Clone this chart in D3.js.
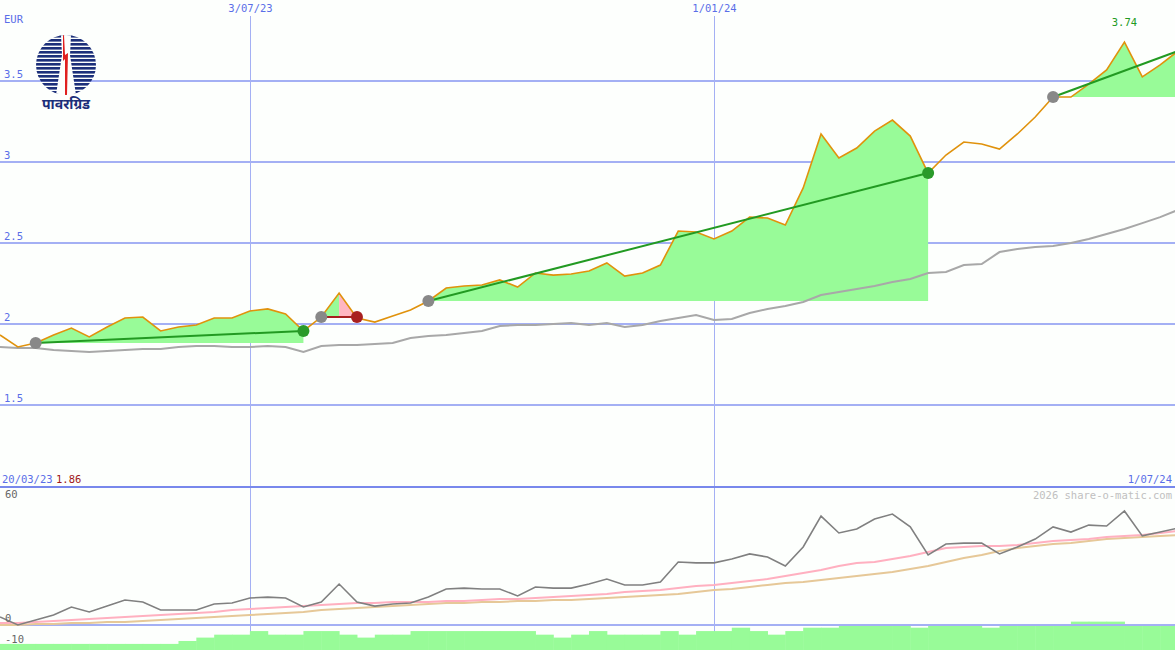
<!DOCTYPE html>
<html><head><meta charset="utf-8">
<script src="https://cdn.jsdelivr.net/npm/d3@7"></script>
<style>body{margin:0;background:#fff}svg{display:block}text{font-family:"DejaVu Sans Mono",monospace;font-size:10.5px}</style>
</head><body><svg id="c" width="1175" height="650"></svg>
<script>
const startDate = "2023-03-27";
const price = [1.932,1.858,1.883,1.932,1.975,1.920,1.981,2.037,2.043,1.957,1.981,1.994,2.037,2.037,2.080,2.093,2.062,1.957,2.043,2.191,2.037,2.012,2.049,2.086,2.142,2.222,2.235,2.241,2.272,2.228,2.315,2.302,2.309,2.327,2.377,2.296,2.315,2.364,2.574,2.568,2.525,2.574,2.660,2.654,2.611,2.840,3.173,3.025,3.086,3.191,3.259,3.160,2.932,3.043,3.123,3.111,3.080,3.173,3.278,3.401,3.401,3.481,3.568,3.740,3.525,3.599,3.685];
const avg = [1.858,1.852,1.852,1.840,1.833,1.827,1.833,1.840,1.846,1.846,1.858,1.864,1.864,1.858,1.858,1.864,1.858,1.827,1.864,1.870,1.870,1.877,1.883,1.914,1.926,1.932,1.944,1.957,1.988,1.994,1.994,2.000,2.006,1.994,2.006,1.981,1.994,2.019,2.037,2.056,2.025,2.031,2.068,2.093,2.111,2.136,2.179,2.198,2.216,2.235,2.259,2.278,2.315,2.321,2.364,2.370,2.444,2.463,2.475,2.481,2.500,2.525,2.556,2.586,2.623,2.660,2.704];
const perf = [3.6,0,2.2,4.4,8,5.8,8.4,11.1,10.2,6.7,6.7,6.7,9.3,9.8,12,12.4,12,8,10.2,18.2,10.2,8.4,9.3,9.8,12.4,16,16.4,16,16,12.9,16.9,16.4,16.4,18.2,20.4,17.8,17.8,19.1,28,27.6,27.6,29.3,31.6,30.2,26.2,34.7,48.4,40.9,42.7,47.1,49.3,43.6,31.1,36,36.4,36.4,31.6,34.7,38.2,43.6,41.3,44.4,44,50.7,39.6,41.3,43.1];
const maPink = [0.9,0.9,1.3,1.8,2.2,2.7,3.1,3.6,4,4.4,4.9,5.3,5.8,6.7,7.1,7.6,8,8.4,8.9,9.3,9.8,9.8,10.2,10.2,10.2,10.7,10.7,11.1,11.6,11.6,12,12.4,12.9,13.3,13.8,14.7,15.1,15.6,16.4,17.3,17.8,18.7,19.6,20.4,21.8,23.1,24.4,26.2,27.6,28,29.3,30.7,32.4,34.2,34.7,35.1,35.1,35.6,36.4,37.3,37.8,38.2,39.1,39.6,40,40.9,41.8];
const maTan = [0,0,0.4,0.4,0.9,0.9,1.3,1.3,1.8,2.2,2.7,3.1,3.6,4,4.4,4.9,5.3,5.8,6.7,7.1,7.6,8,8.4,8.9,9.3,9.8,9.8,10.2,10.2,10.7,10.7,11.1,11.1,11.6,12,12.4,12.9,13.3,13.8,14.7,15.6,16,16.9,17.8,18.7,19.1,20,20.9,21.8,22.7,23.6,24.9,26.2,28,29.8,31.1,32.9,34.2,35.1,36,36.4,37.3,38.2,38.7,39.1,39.6,40];
const bars = [-8.4,-8.4,-8.4,-8.4,-8.4,-8.4,-8.4,-8.4,-8.4,-8.4,-7.1,-5.6,-4.3,-4.3,-2.7,-4.3,-4.3,-2.7,-2.7,-4.3,-5.6,-4.3,-4.3,-2.7,-2.7,-2.7,-2.7,-2.7,-2.7,-2.7,-4.3,-5.6,-4.3,-2.7,-4.3,-4.3,-4.3,-2.7,-4.3,-2.7,-2.7,-1.2,-2.7,-4.3,-2.7,-1.2,-1.2,0.1,0.1,0.1,0.1,-1.2,0.1,0.1,0.1,-1.2,0.1,0.1,0.1,0.1,1.5,1.5,1.5,0.1,0.1,0.1];
const priceTicks = [1.5,2,2.5,3,3.5];
const dateTicks = ["2023-07-03","2024-01-01"];
const dateTickLabels = ["3/07/23","1/01/24"];
const trends = [{from:2,to:17,kind:"up"},{from:18,to:20,kind:"down"},{from:24,to:52,kind:"up"},{from:59,to:66,kind:"open"}];

const svg = d3.select("#c");
const parse = d3.utcParse("%Y-%m-%d");
const t0 = parse(startDate);
const dates = price.map((_, i) => d3.utcDay.offset(t0, 7 * i));
const x = d3.scaleUtc().domain([t0, parse("2024-07-01")]).range([0, 1178]);
const y = d3.scaleLinear().domain([1, 4]).range([486, 0]);
const y2 = d3.scaleLinear().domain([0, 60]).range([625, 490]);
const X = i => x(dates[i]);

svg.append("rect").attr("width",1175).attr("height",650).attr("fill","#fdfffd");
priceTicks.forEach(v => svg.append("line").attr("x1",0).attr("x2",1175).attr("y1",y(v)).attr("y2",y(v)).attr("stroke","#a4b0f4").attr("stroke-width",2));
dateTicks.forEach((d,k) => {
  const xx = Math.round(x(parse(d))) + 0.5;
  svg.append("line").attr("x1",xx).attr("x2",xx).attr("y1",16).attr("y2",650).attr("stroke","#a4b0f4").attr("stroke-width",1);
  svg.append("text").attr("x",xx).attr("y",12).attr("text-anchor","middle").attr("fill","#5a6ee8").text(dateTickLabels[k]);
});
priceTicks.forEach(v => svg.append("text").attr("x",4).attr("y",y(v)-3).attr("fill","#5a6ee8").text(v));
svg.append("text").attr("x",4).attr("y",23).attr("fill","#5a6ee8").text("EUR");

const areaBetween = (base) => d3.area().x(d => X(d)).y0(y(base)).y1(d => y(price[d]));
trends.forEach(t => {
  const idx = d3.range(t.from, t.to + 1);
  const base = price[t.from];
  if (t.kind === "down") {
    const pk = t.from + 1;
    svg.append("path").attr("d", areaBetween(base)(d3.range(t.from, pk + 1))).attr("fill","#98fb98");
    svg.append("path").attr("d", areaBetween(base)(d3.range(pk, t.to + 1))).attr("fill","#ffb6c1");
  } else {
    svg.append("path").attr("d", areaBetween(base)(idx)).attr("fill","#98fb98");
  }
});
svg.append("path").attr("d", d3.line().x((d,i)=>X(i)).y(d=>y(d))(avg)).attr("fill","none").attr("stroke","#a8a8a8").attr("stroke-width",2);
svg.append("path").attr("d", d3.line().x((d,i)=>X(i)).y(d=>y(d))(price)).attr("fill","none").attr("stroke","#e0920c").attr("stroke-width",1.6);
trends.forEach(t => {
  const endV = t.kind === "down" ? price[t.from] : price[t.to];
  svg.append("line").attr("x1",X(t.from)).attr("y1",y(price[t.from])).attr("x2",X(t.to)).attr("y2",y(endV))
    .attr("stroke", t.kind === "down" ? "#a82020" : "#229a22").attr("stroke-width",2);
  svg.append("circle").attr("cx",X(t.from)).attr("cy",y(price[t.from])).attr("r",6).attr("fill","#888");
  if (t.kind !== "open") svg.append("circle").attr("cx",X(t.to)).attr("cy",y(endV)).attr("r",6).attr("fill", t.kind === "down" ? "#a82020" : "#2a9a2a");
});
const mi = d3.maxIndex(price);
svg.append("text").attr("x",X(mi)).attr("y",26).attr("text-anchor","middle").attr("fill","#229a22").text(d3.format(".2f")(price[mi]));

svg.append("line").attr("x1",0).attr("x2",1175).attr("y1",487).attr("y2",487).attr("stroke","#7888ec").attr("stroke-width",2);
svg.append("text").attr("x",2).attr("y",483).attr("fill","#5a6ee8").text("20/03/23");
svg.append("text").attr("x",56).attr("y",483).attr("fill","#a01818").text(d3.format(".2f")(d3.min(price)));
svg.append("text").attr("x",1172).attr("y",483).attr("text-anchor","end").attr("fill","#5a6ee8").text("1/07/24");

svg.selectAll(".bar").data(bars).join("rect").attr("x",(d,i)=>X(i)).attr("width",(d,i)=>X(i+1)-X(i)+0.5)
  .attr("y",d=>y2(d)).attr("height",d=>y2(-12)-y2(d)).attr("fill","#98fb98");
svg.append("line").attr("x1",0).attr("x2",1175).attr("y1",y2(0)).attr("y2",y2(0)).attr("stroke","#a4b0f4").attr("stroke-width",2);
const l2 = d3.line().x((d,i)=>X(i)).y(d=>y2(d));
svg.append("path").attr("d",l2(maTan)).attr("fill","none").attr("stroke","#e6c898").attr("stroke-width",2);
svg.append("path").attr("d",l2(maPink)).attr("fill","none").attr("stroke","#ffb0c0").attr("stroke-width",2);
svg.append("path").attr("d",l2(perf)).attr("fill","none").attr("stroke","#808080").attr("stroke-width",1.6);
[[60,498],[0,622],[-10,643]].forEach(([v,yy]) => svg.append("text").attr("x",5).attr("y",yy).attr("fill","#666").text(v));
svg.append("text").attr("x",1172).attr("y",499).attr("text-anchor","end").attr("fill","#c0c0c0").attr("font-size",11.5).text("2026 share-o-matic.com");

const lg = svg.append("g").attr("transform","translate(66,65)");
lg.append("clipPath").attr("id","lc").append("circle").attr("r",30);
const sg = lg.append("g").attr("clip-path","url(#lc)");
d3.range(-30,30,4).forEach(v => sg.append("rect").attr("x",-30).attr("y",v).attr("width",60).attr("height",2.6).attr("fill","#1c2f7a"));
sg.append("path").attr("d","M-5,-30 L-4,-10 L-10,30 L10,30 L4,-10 L5,-30Z").attr("fill","#fdfffd");
sg.append("path").attr("d","M-3,-30 L-2,-30 L-1,-10 L2,-12 L1,30 L-1,30 L-1,-6 L-3,-4Z").attr("fill","#e02020");
lg.append("text").attr("x",0).attr("y",44).attr("text-anchor","middle").attr("fill","#1c2f7a")
  .style("font-family","'Noto Sans','DejaVu Sans',sans-serif").style("font-size","14px").style("font-weight","bold").text("पावरग्रिड");
</script></body></html>
